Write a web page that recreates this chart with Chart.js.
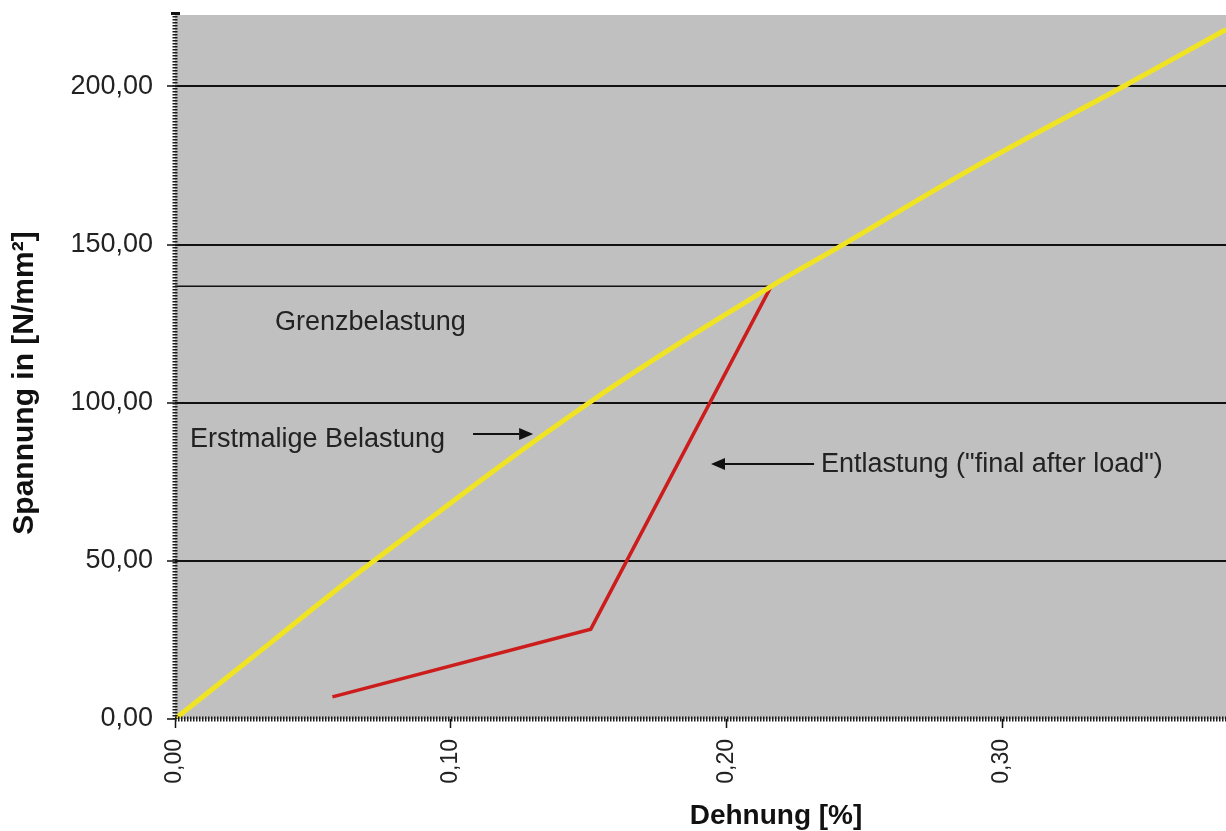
<!DOCTYPE html>
<html><head><meta charset="utf-8">
<script src="https://cdn.jsdelivr.net/npm/chart.js@4/dist/chart.umd.min.js"></script>
<style>html,body{margin:0;padding:0;background:#fff;overflow:hidden}#wrap{width:1226px;height:831px}</style>
</head><body><div id="wrap"><canvas id="c" width="1226" height="831"></canvas></div>
<script>
// Erstmalige Belastung (yellow)
const loadStrain = [0, 0.0345, 0.0722, 0.1502, 0.2162, 0.2423, 0.2900, 0.3439, 0.3812];
const loadStress = [0, 24, 50, 100, 136.8, 150, 174.5, 200, 218];
// Entlastung (red)
const unloadStrain = [0.0571, 0.1508, 0.2162];
const unloadStress = [7.0, 28.4, 136.8];
// Grenzbelastung line
const limitStrain = [0, 0.2162];
const limitStress = [136.8, 136.8];
// ticks
const xTickValues = [0, 0.1, 0.2, 0.3];
const yTickValues = [0, 50, 100, 150, 200];
const xTitle = 'Dehnung [%]';
const yTitle = 'Spannung in [N/mm²]';
const annLimit = 'Grenzbelastung';
const annLoad = 'Erstmalige Belastung';
const annUnload = 'Entlastung ("final after load")';

const FONT = "'Liberation Sans', Arial, sans-serif";
const toPts = (xs, ys) => xs.map((x, i) => ({x: x, y: ys[i]}));
const fmt = v => Number(v).toFixed(2).replace('.', ',');

const bgPlugin = {
  id: 'bg',
  beforeDraw(chart) {
    const {ctx, chartArea: a} = chart;
    ctx.save();
    ctx.fillStyle = '#ffffff';
    ctx.fillRect(0, 0, chart.width, chart.height);
    ctx.fillStyle = '#c0c0c0';
    ctx.fillRect(a.left, a.top, a.right - a.left, a.bottom - a.top);
    ctx.restore();
  }
};

function arrow(ctx, x1, y1, x2, y2) {
  const ang = Math.atan2(y2 - y1, x2 - x1);
  const L = 14, W = 6;
  ctx.beginPath();
  ctx.moveTo(x1, y1);
  ctx.lineTo(x2 - L * Math.cos(ang), y2 - L * Math.sin(ang));
  ctx.stroke();
  ctx.beginPath();
  ctx.moveTo(x2, y2);
  ctx.lineTo(x2 - L * Math.cos(ang) - W * Math.sin(ang), y2 - L * Math.sin(ang) + W * Math.cos(ang));
  ctx.lineTo(x2 - L * Math.cos(ang) + W * Math.sin(ang), y2 - L * Math.sin(ang) - W * Math.cos(ang));
  ctx.closePath();
  ctx.fill();
}

const annPlugin = {
  id: 'ann',
  afterDatasetsDraw(chart) {
    const {ctx, chartArea: a} = chart;
    const xs = chart.scales.x, ys = chart.scales.y;
    const px = v => xs.getPixelForValue(v), py = v => ys.getPixelForValue(v);
    ctx.save();
    ctx.fillStyle = '#222';
    ctx.strokeStyle = '#111';
    ctx.lineWidth = 2;
    ctx.font = '27px ' + FONT;
    ctx.textAlign = 'left';
    ctx.textBaseline = 'middle';
    ctx.fillText(annLimit, px(0.0363), py(125.5));
    ctx.fillText(annLoad, px(0.0054), py(88.5));
    ctx.fillText(annUnload, px(0.2343), py(80.6));
    ctx.fillStyle = '#111';
    arrow(ctx, px(0.1081), py(90.1), px(0.1299), py(90.1));
    arrow(ctx, px(0.2318), py(80.6), px(0.1944), py(80.6));
    // comb-like axis lines
    ctx.strokeStyle = '#1a1a1a';
    ctx.lineWidth = 5;
    ctx.setLineDash([1.5, 1.5]);
    ctx.beginPath();
    ctx.moveTo(a.left, a.top - 2);
    ctx.lineTo(a.left, a.bottom);
    ctx.stroke();
    ctx.beginPath();
    ctx.moveTo(a.left, a.bottom);
    ctx.lineTo(a.right, a.bottom);
    ctx.stroke();
    ctx.setLineDash([]);
    ctx.fillStyle = '#111';
    ctx.fillRect(a.left - 4, a.top - 3, 9, 3);
    ctx.restore();
  },
  afterDraw(chart) {
    const {ctx} = chart;
    ctx.save();
    ctx.fillStyle = '#111';
    ctx.textAlign = 'center';
    ctx.textBaseline = 'middle';
    ctx.font = 'bold 28px ' + FONT;
    ctx.fillText(xTitle, 776, 816);
    ctx.font = 'bold 30px ' + FONT;
    ctx.translate(25, 383);
    ctx.rotate(-Math.PI / 2);
    ctx.fillText(yTitle, 0, 0);
    ctx.restore();
  }
};

new Chart(document.getElementById('c'), {
  type: 'line',
  data: {
    datasets: [
      {label: 'Erstmalige Belastung', data: toPts(loadStrain, loadStress), borderColor: '#efe324', borderWidth: 5,
       pointRadius: 0, tension: 0.4, fill: false, order: 1},
      {label: 'Entlastung', data: toPts(unloadStrain, unloadStress), borderColor: '#cc1c1c', borderWidth: 3.5,
       pointRadius: 0, tension: 0, fill: false, order: 2},
      {label: 'Grenzbelastung', data: toPts(limitStrain, limitStress), borderColor: '#111', borderWidth: 1.5,
       pointRadius: 0, tension: 0, fill: false, order: 3}
    ]
  },
  options: {
    responsive: false,
    animation: false,
    devicePixelRatio: 1,
    layout: {padding: {top: 15, right: 0, bottom: 0, left: 0}},
    plugins: {legend: {display: false}, tooltip: {enabled: false}},
    scales: {
      x: {
        type: 'linear', min: 0, max: 0.3812,
        afterBuildTicks: s => { s.ticks = xTickValues.map(v => ({value: v})); },
        afterFit: s => { s.height = 112; s.paddingLeft = 0; s.paddingRight = 0; },
        grid: {drawOnChartArea: false, drawTicks: true, tickLength: 9, tickColor: '#111', tickWidth: 1.5},
        border: {display: false},
        ticks: {autoSkip: false, minRotation: 90, maxRotation: 90, padding: 11, color: '#222',
                font: {family: FONT, size: 23}, callback: v => fmt(v)}
      },
      y: {
        type: 'linear', min: 0, max: 222.6,
        afterBuildTicks: s => { s.ticks = yTickValues.map(v => ({value: v})); },
        afterFit: s => { s.width = 175; s.paddingTop = 0; s.paddingBottom = 0; },
        grid: {drawOnChartArea: true, drawTicks: true, tickLength: 8, tickColor: '#111', tickWidth: 1.5,
               color: c => (c.tick && c.tick.value === 0) ? 'rgba(0,0,0,0)' : '#111', lineWidth: 2},
        border: {display: false},
        ticks: {padding: 14, color: '#222', font: {family: FONT, size: 27}, callback: v => fmt(v)}
      }
    }
  },
  plugins: [bgPlugin, annPlugin]
});
</script></body></html>
